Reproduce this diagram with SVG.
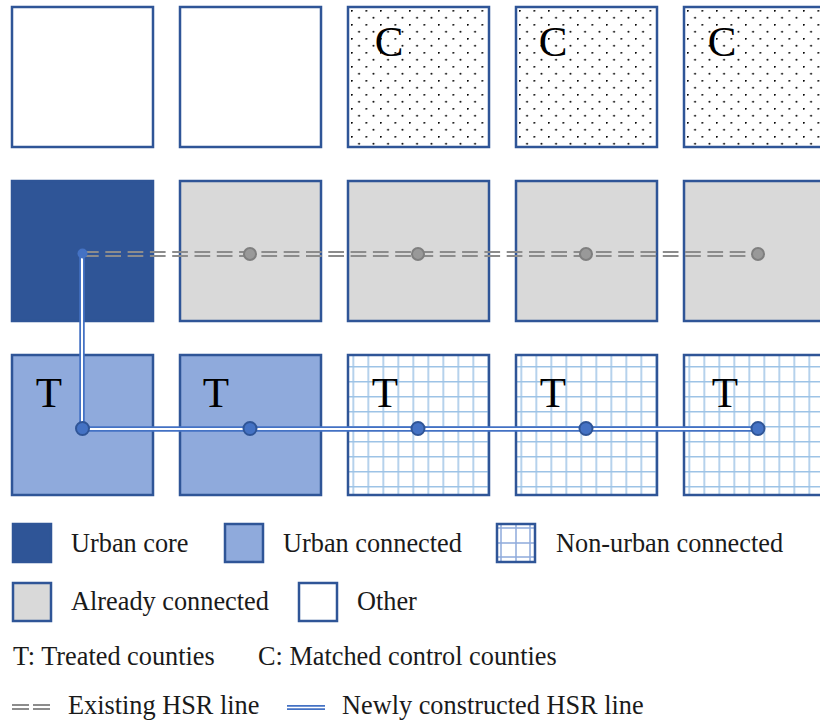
<svg xmlns="http://www.w3.org/2000/svg" width="820" height="724" viewBox="0 0 820 724">
  <defs>
    <style>
      .box { stroke: #2F5597; stroke-width: 2.5; }
      .other { fill: #FFFFFF; }
      .core { fill: #2F5597; stroke: #2F5597; }
      .urban { fill: #8FAADC; }
      .already { fill: #D9D9D9; }
      .ctrl { fill: url(#dots); }
      .nonurban { fill: url(#grid); }
      .big { font-family: "Liberation Serif", "DejaVu Serif", serif; font-size: 43px; fill: #000; text-anchor: middle; }
      .lbl { font-family: "Liberation Serif", "DejaVu Serif", serif; font-size: 26.3px; fill: #1a1a1a; }
      .exist { stroke: #8C8C8C; stroke-width: 2; fill: none; stroke-dasharray: 15.7 6.6; }
      .new-outer { stroke: #4472C4; stroke-width: 5.5; fill: none; }
      .new-inner { stroke: #FFFFFF; stroke-width: 2; fill: none; }
      .gdot { fill: #999999; stroke: #7F7F7F; stroke-width: 2; }
      .bdot { fill: #4472C4; stroke: #2F5597; stroke-width: 2; }
    </style>
    <!-- staggered dot fill for matched control counties -->
    <pattern id="dots" patternUnits="userSpaceOnUse" x="3" y="3" width="14.5" height="14">
      <circle cx="0.8" cy="0.8" r="0.95" fill="#000"/>
      <circle cx="8.05" cy="7.8" r="0.95" fill="#000"/>
    </pattern>
    <!-- light blue grid fill for non-urban connected counties -->
    <pattern id="grid" patternUnits="userSpaceOnUse" x="4.5" y="11" width="15" height="15">
      <rect width="15" height="15" fill="#FFFFFF"/>
      <path d="M0.75 0V15M0 0.75H15" stroke="#9DC3E6" stroke-width="1.5"/>
    </pattern>
  </defs>

  <rect width="820" height="724" fill="#FFFFFF"/>

  <!-- row 1: other / matched controls -->
  <g id="r1c1" transform="translate(12,7)"><rect class="box other" width="141" height="140"/></g>
  <g id="r1c2" transform="translate(180,7)"><rect class="box other" width="141" height="140"/></g>
  <g id="r1c3" transform="translate(348,7)"><rect class="box ctrl" width="141" height="140"/><text class="big" x="41" y="49">C</text></g>
  <g id="r1c4" transform="translate(516,7)"><rect class="box ctrl" width="141" height="140"/><text class="big" x="37" y="49">C</text></g>
  <g id="r1c5" transform="translate(684,7)"><rect class="box ctrl" width="141" height="140"/><text class="big" x="38" y="49">C</text></g>

  <!-- row 2: urban core / already connected -->
  <g id="r2c1" transform="translate(12,181)"><rect class="box core" width="141" height="140"/></g>
  <g id="r2c2" transform="translate(180,181)"><rect class="box already" width="141" height="140"/></g>
  <g id="r2c3" transform="translate(348,181)"><rect class="box already" width="141" height="140"/></g>
  <g id="r2c4" transform="translate(516,181)"><rect class="box already" width="141" height="140"/></g>
  <g id="r2c5" transform="translate(684,181)"><rect class="box already" width="141" height="140"/></g>

  <!-- row 3: treated counties -->
  <g id="r3c1" transform="translate(12,355)"><rect class="box urban" width="141" height="140"/><text class="big" x="37" y="52">T</text></g>
  <g id="r3c2" transform="translate(180,355)"><rect class="box urban" width="141" height="140"/><text class="big" x="36" y="52">T</text></g>
  <g id="r3c3" transform="translate(348,355)"><rect class="box nonurban" width="141" height="140"/><text class="big" x="37" y="52">T</text></g>
  <g id="r3c4" transform="translate(516,355)"><rect class="box nonurban" width="141" height="140"/><text class="big" x="37" y="52">T</text></g>
  <g id="r3c5" transform="translate(684,355)"><rect class="box nonurban" width="141" height="140"/><text class="big" x="41" y="52">T</text></g>

  <!-- HSR lines and stations -->
  <g id="connectors">
    <line class="exist" x1="83" y1="252" x2="758" y2="252"/>
    <line class="exist" x1="83" y1="256" x2="758" y2="256"/>
    <path class="new-outer" d="M82 254V429H758"/>
    <path class="new-inner" d="M82 254V429H758"/>
    <circle class="gdot" cx="250" cy="254" r="6"/>
    <circle class="gdot" cx="418" cy="254" r="6"/>
    <circle class="gdot" cx="586" cy="254" r="6"/>
    <circle class="gdot" cx="758" cy="254" r="6"/>
    <circle cx="82.5" cy="253.5" r="5" fill="#4472C4"/>
    <circle class="bdot" cx="82.5" cy="428.5" r="6.5"/>
    <circle class="bdot" cx="250" cy="428.5" r="6.5"/>
    <circle class="bdot" cx="418" cy="428.5" r="6.5"/>
    <circle class="bdot" cx="586" cy="428.5" r="6.5"/>
    <circle class="bdot" cx="758" cy="428.5" r="6.5"/>
  </g>

  <!-- legend -->
  <g id="legend">
    <g id="leg-core"><rect class="box core" x="13" y="524" width="38" height="38"/><text class="lbl" x="71" y="552">Urban core</text></g>
    <g id="leg-urban"><rect class="box urban" x="225" y="524" width="38" height="38"/><text class="lbl" x="283" y="552">Urban connected</text></g>
    <g id="leg-nonurban">
      <rect x="497" y="524" width="38" height="38" fill="#FFFFFF"/>
      <path d="M501 524V562M516 524V562M530 524V562M497 528H535M497 543H535M497 557H535" stroke="#8FAADC" stroke-width="1.5"/>
      <rect class="box" x="497" y="524" width="38" height="38" fill="none"/>
      <text class="lbl" x="556" y="552">Non-urban connected</text>
    </g>
    <g id="leg-already"><rect class="box already" x="13" y="583" width="38" height="38"/><text class="lbl" x="71" y="610">Already connected</text></g>
    <g id="leg-other"><rect class="box other" x="299" y="583" width="38" height="38"/><text class="lbl" x="357" y="610">Other</text></g>
    <text class="lbl" x="13" y="665">T: Treated counties</text>
    <text class="lbl" x="258" y="665">C: Matched control counties</text>
    <g id="leg-existing">
      <path d="M12 705H29M33 705H50M12 709H29M33 709H50" stroke="#8C8C8C" stroke-width="1.8"/>
      <text class="lbl" x="68" y="714">Existing HSR line</text>
    </g>
    <g id="leg-new">
      <path d="M287 707.5H325" stroke="#4472C4" stroke-width="5"/>
      <path d="M287 707.5H325" stroke="#FFFFFF" stroke-width="1.6"/>
      <text class="lbl" x="342" y="714">Newly constructed HSR line</text>
    </g>
  </g>
</svg>
